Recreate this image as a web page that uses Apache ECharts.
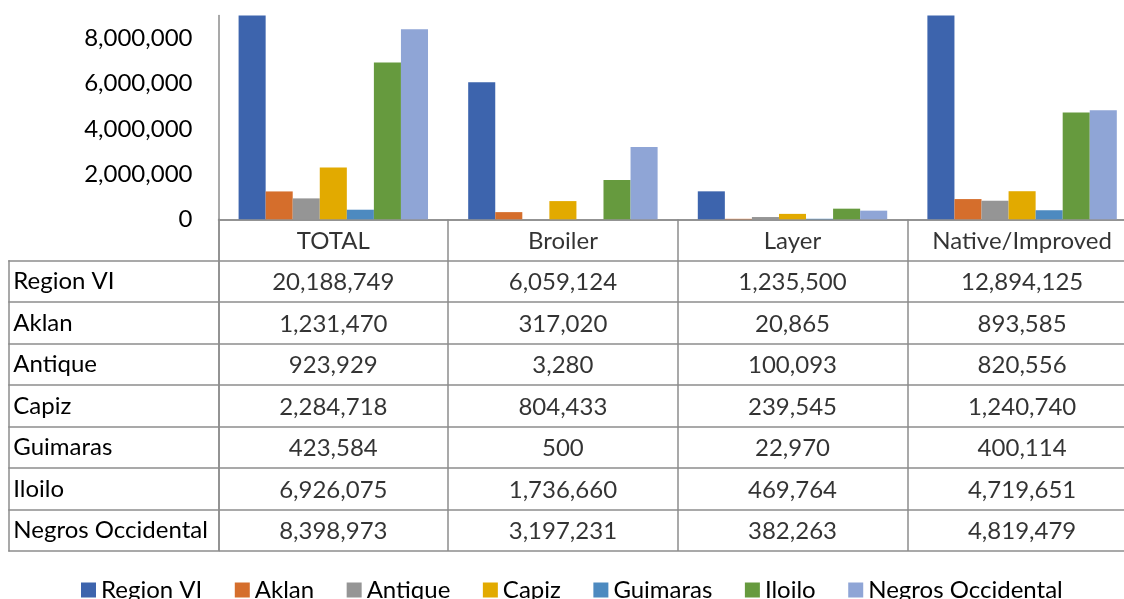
<!DOCTYPE html>
<html>
<head>
<meta charset="utf-8">
<script src="https://cdn.jsdelivr.net/npm/echarts@6/dist/echarts.min.js"></script>
<style>
  html, body { margin: 0; padding: 0; background: #fff; overflow: hidden; }
  /* the table runs off the right edge in the original, so the canvas is a bit wider than the window */
  #chart { width: 1140px; height: 599px; }
</style>
</head>
<body>
<div id="chart"></div>
<script>
var categories = ['TOTAL', 'Broiler', 'Layer', 'Native/Improved'];
var regions = ['Region VI', 'Aklan', 'Antique', 'Capiz', 'Guimaras', 'Iloilo', 'Negros Occidental'];

var regionVI = [20188749, 6059124, 1235500, 12894125];
var aklan = [1231470, 317020, 20865, 893585];
var antique = [923929, 3280, 100093, 820556];
var capiz = [2284718, 804433, 239545, 1240740];
var guimaras = [423584, 500, 22970, 400114];
var iloilo = [6926075, 1736660, 469764, 4719651];
var negros = [8398973, 3197231, 382263, 4819479];

var seriesValues = [regionVI, aklan, antique, capiz, guimaras, iloilo, negros];
var colors = ['#3d64ad', '#d56e2c', '#959595', '#e2aa00', '#4d8ac0', '#669a3e', '#8fa5d6'];

var font = 'Lato';
var fontSize = 24;
var lineColor = '#8c8c8c';

function fmt(n) {
  return String(n).replace(/\B(?=(\d{3})+(?!\d))/g, ',');
}

// bars
var series = seriesValues.map(function (vals, i) {
  return {
    name: regions[i],
    type: 'bar',
    xAxisIndex: 0,
    yAxisIndex: 0,
    barGap: 0,
    barCategoryGap: '17.5%',
    itemStyle: { color: colors[i] },
    data: vals
  };
});

// data table cells (header row + one row per region)
var cells = [];
categories.forEach(function (c, ci) {
  cells.push({ value: [ci, 0], text: c });
  seriesValues.forEach(function (vals, ri) {
    cells.push({ value: [ci, ri + 1], text: fmt(vals[ci]) });
  });
});
series.push({
  name: 'table',
  type: 'scatter',
  xAxisIndex: 1,
  yAxisIndex: 1,
  symbolSize: 0,
  silent: true,
  label: {
    show: true,
    position: 'inside',
    offset: [0, 1],
    fontFamily: font,
    fontSize: fontSize,
    color: '#000',
    formatter: function (p) { return p.data.text; }
  },
  data: cells
});

var tableRows = [''].concat(regions);

var option = {
  animation: false,
  color: colors,
  legend: {
    data: regions,
    left: 76,
    top: 573,
    icon: 'rect',
    itemWidth: 15,
    itemHeight: 15,
    itemGap: 32.5,
    textStyle: { fontFamily: font, fontSize: fontSize, color: '#000', lineHeight: 24 }
  },
  grid: [
    { left: 218.5, top: 15.6, width: 918.4, height: 203.7 },
    { left: 218.5, top: 219.3, width: 918.4, height: 331.7 },
    { left: 8.3, top: 260.7, width: 210.2, height: 290.3 }
  ],
  xAxis: [
    {
      gridIndex: 0,
      type: 'category',
      data: categories,
      axisLine: { show: true, lineStyle: { color: lineColor, width: 1.5 } },
      axisTick: { show: false },
      axisLabel: { show: false }
    },
    {
      gridIndex: 1,
      type: 'category',
      data: categories,
      axisLine: { show: false },
      axisTick: { show: false },
      axisLabel: { show: false, interval: 0 },
      splitLine: { show: true, interval: 0, lineStyle: { color: lineColor, width: 1.5 } }
    },
    {
      gridIndex: 2,
      type: 'category',
      data: [''],
      show: false
    }
  ],
  yAxis: [
    {
      gridIndex: 0,
      type: 'value',
      min: 0,
      max: 9000000,
      interval: 2000000,
      axisLine: { show: true, lineStyle: { color: lineColor, width: 1.5 } },
      axisTick: { show: false },
      splitLine: { show: false },
      axisLabel: {
        showMaxLabel: false,
        margin: 26,
        fontFamily: font,
        fontSize: fontSize,
        color: '#000',
        formatter: function (v) { return fmt(v); }
      }
    },
    {
      gridIndex: 1,
      type: 'category',
      inverse: true,
      data: tableRows,
      axisLine: { show: true, lineStyle: { color: lineColor, width: 1.5 } },
      axisTick: { show: false },
      axisLabel: { show: false, interval: 0 },
      splitLine: { show: true, interval: 0, lineStyle: { color: lineColor, width: 1.5 } }
    },
    {
      gridIndex: 2,
      type: 'category',
      inverse: true,
      data: regions,
      axisLine: { show: true, lineStyle: { color: lineColor, width: 1.5 } },
      axisTick: { show: false },
      axisLabel: {
        inside: true,
        interval: 0,
        margin: 5,
        fontFamily: font,
        fontSize: fontSize,
        color: '#000'
      },
      splitLine: { show: true, interval: 0, lineStyle: { color: lineColor, width: 1.5 } }
    }
  ],
  series: series
};

var myChart = echarts.init(document.getElementById('chart'));
myChart.setOption(option);
</script>
</body>
</html>
